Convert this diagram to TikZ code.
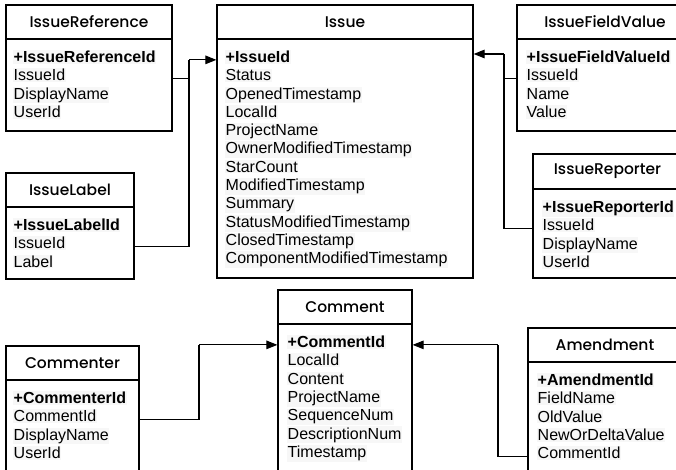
\documentclass[tikz,border=0pt]{standalone}
\usepackage{fontspec}
\setmainfont{Liberation Sans}
\newfontfamily\titlefont{Poppins Medium}
\usetikzlibrary{arrows.meta,fit}
\tikzset{
  box/.style={draw, line width=1.2pt, inner sep=0pt},
  hline/.style={line width=1.2pt},
  ttl/.style={font=\titlefont\fontsize{15.5}{16}\selectfont, inner sep=0pt, anchor=center},
  fld/.style={font=\fontsize{16}{18}\selectfont, anchor=base west, inner xsep=0.5pt, inner ysep=1pt, fill=black!3},
  keyfld/.style={fld, font=\bfseries\fontsize{16}{18}\selectfont},
  link/.style={draw, line width=1.1pt},
  arr/.style={link, -{Triangle[length=11pt,width=8.5pt]}},
}
% name, x1, y1, x2, y2, header y, title
\newcommand\entity[7]{%
  \node[box, fit={(#2,#3) (#4,#5)}] (#1) {};
  \draw[hline] (#2,#6) -- (#4,#6);
  \node[ttl] (#1-t) at ({(#2+#4)/2},{(#3+#6)/2}) {#7};
}
% name, x, first baseline, key text, other fields
\newcommand\fields[5]{%
  \node[keyfld] (#1-f1) at (#2,#3) {#4};
  \foreach \t [count=\i from 2] in {#5} {
    \node[fld] (#1-f\i) at (#2,{#3+(\i-1)*18.3}) {\t};
  }
}
\begin{document}
\begin{tikzpicture}[x=1pt,y=-1pt]
\useasboundingbox (0,0) rectangle (676,470);
\fill[white] (0,0) rectangle (676,470);
\clip (0,0) rectangle (676,470);

\entity{ir}{6}{5}{172}{131}{39}{IssueReference}
\fields{ir}{13}{62.5}{+IssueReferenceId}{IssueId,DisplayName,UserId}

\entity{issue}{217}{5}{473}{278}{39}{Issue}
\fields{issue}{225}{62.5}{+IssueId}{Status,OpenedTimestamp,LocalId,ProjectName,OwnerModifiedTimestamp,StarCount,ModifiedTimestamp,Summary,StatusModifiedTimestamp,ClosedTimestamp,ComponentModifiedTimestamp}

\entity{ifv}{517}{5}{693}{131}{39}{IssueFieldValue}
\fields{ifv}{526}{62.5}{+IssueFieldValueId}{IssueId,Name,Value}

\entity{il}{6}{173}{134}{279}{207}{IssueLabel}
\fields{il}{13}{230.5}{+IssueLabelId}{IssueId,Label}

\entity{irp}{533}{154}{682}{278}{189}{IssueReporter}
\fields{irp}{542}{212.5}{+IssueReporterId}{IssueId,DisplayName,UserId}

\entity{cmr}{6}{346}{139}{490}{380}{Commenter}
\fields{cmr}{13}{403.5}{+CommenterId}{CommentId,DisplayName,UserId}

\entity{cm}{278}{290}{412}{490}{324}{Comment}
\fields{cm}{287}{347.5}{+CommentId}{LocalId,Content,ProjectName,SequenceNum,DescriptionNum,Timestamp}

\entity{am}{528}{328}{682}{490}{362}{Amendment}
\fields{am}{537}{385.5}{+AmendmentId}{FieldName,OldValue,NewOrDeltaValue,CommentId}

% junctions
\coordinate (jL) at (189,0 |- issue-f1.mid);
\coordinate (jR) at (504,54);
\coordinate (jC) at (199,0 |- cm-f1.mid);
\coordinate (jA) at (498,0 |- cm-f1.mid);

\draw[link] (ir.east |- ir-f2.mid) -| (jL);
\draw[link] (il.east |- il-f2.mid) -| (jL);
\draw[arr] (jL) -- (issue.west |- jL);

\draw[link] (ifv.west |- ifv-f2.mid) -| (jR);
\draw[link] (irp.west |- irp-f2.mid) -| (jR);
\draw[arr] (jR) -- (issue.east |- jR);

\draw[link] (cmr.east |- cmr-f2.mid) -| (jC);
\draw[arr] (jC) -- (cm.west |- jC);

\draw[link] (am.west |- am-f5.mid) -| (jA);
\draw[arr] (jA) -- (cm.east |- jA);
\end{tikzpicture}
\end{document}
